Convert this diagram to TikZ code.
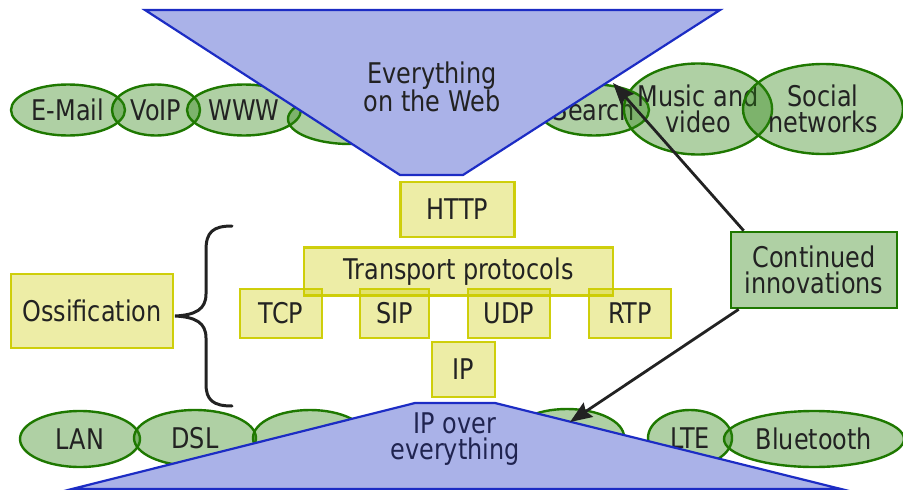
\documentclass[tikz,border=0pt]{standalone}
\usepackage{fontspec}
\setmainfont{DejaVu Sans}[FakeStretch=0.84]
\usetikzlibrary{arrows.meta,shapes.geometric,calc}
\definecolor{txt}{RGB}{34,34,34}
\definecolor{navytxt}{RGB}{32,36,80}
\definecolor{webfill}{RGB}{170,178,232}
\definecolor{webedge}{RGB}{28,44,196}
\definecolor{appfill}{RGB}{44,132,17}
\definecolor{appedge}{RGB}{30,120,0}
\definecolor{layer}{RGB}{204,204,0}
\newcommand{\bigtext}{\fontsize{28.5}{26.5}\selectfont}
\begin{document}
\begin{tikzpicture}[x=1pt,y=-1pt,
  every node/.style={font=\bigtext, text=txt, align=center},
  app/.style 2 args={ellipse, draw=appedge, line width=2.4pt, fill=appfill,
    fill opacity=0.38, draw opacity=1, text opacity=1, inner sep=-8pt,
    minimum width=#1, minimum height=#2},
  layerbox/.style 2 args={rectangle, draw=layer, line width=2.8pt, fill=layer,
    fill opacity=0.35, draw opacity=0.95, text opacity=1, inner sep=0pt,
    minimum width=#1, minimum height=#2},
  web/.style={draw=webedge, line width=2.2pt, fill=webfill, line join=miter},
  arr/.style={draw=txt, line width=2.8pt, -{Stealth[length=22pt,width=17pt,inset=3pt]}},
  bracestroke/.style={draw=txt, line width=3pt, line cap=round}]
\useasboundingbox (0,0) rectangle (903,490);

% applications on top of the web
\node[app={114}{51}] (email) at (68,110) {E-Mail};
\node[app={88}{51}] (voip) at (156,110) {VoIP};
\node[app={114}{51}] (www) at (244,110) {WWW};
\node[app={124}{50}] (appx) at (350,119) {};
\node[app={110}{51}] (search) at (594,110) {Search};
\node[app={142}{91}] (music) at (698,109) {Music and\\video};
\node[app={160}{90}] (social) at (823,109) {Social\\networks};

% link technologies below IP
\node[app={120}{56}] (lan) at (80,439) {LAN};
\node[app={122}{56}] (dsl) at (195,438) {DSL};
\node[app={114}{56}] (linkx) at (310,438) {};
\node[app={114}{56}] (linky) at (567,437) {};
\node[app={84}{56}] (lte) at (690,438) {LTE};
\node[app={180}{56}] (bt) at (814,439) {Bluetooth};

% the two funnels
\draw[web] (145,10) -- (720,10) -- (463,175) -- (400,175) -- cycle;
\node (webtext) at (432,87) {Everything\\on the Web};
\draw[web] (415,403) -- (495,403) -- (841,489) -- (72,489) -- cycle;
\node[text=navytxt] (iptext) at (455,439) {IP over\\everything};

% the protocol stack
\node[layerbox={114}{55}] (http) at (457.5,209.5) {HTTP};
\node[layerbox={309}{48}] (transport) at (458.5,271.5) {Transport protocols};
\node[layerbox={82}{49}] (tcp) at (281,313.5) {TCP};
\node[layerbox={69}{49}] (sip) at (394.5,313.5) {SIP};
\node[layerbox={82}{49}] (udp) at (509,313.5) {UDP};
\node[layerbox={82}{49}] (rtp) at (630,313.5) {RTP};
\node[layerbox={63}{55}] (ip) at (463.5,369.5) {IP};
\node[layerbox={162}{74}] (oss) at (92,311) {Ossification};

% brace grouping the stack
\draw[bracestroke] (232,226) .. controls (213,226) and (206,232) .. (206,250)
  -- (206,294) .. controls (206,309) and (196,315) .. (175,316)
  .. controls (196,317) and (206,323) .. (206,338)
  -- (206,384) .. controls (206,400) and (213,406) .. (232,406);

% innovation at both ends
\node[rectangle, draw=appedge, line width=2.6pt, fill=appfill, fill opacity=0.38,
  text opacity=1, minimum width=166, minimum height=76, inner sep=0pt]
  (cont) at (814,270) {Continued\\innovations};
\coordinate (webtip) at (613,83);
\coordinate (iptip) at (570,422);
\draw[arr] ($(cont.north west)+(14,0)$) -- (webtip);
\draw[arr] ($(cont.south west)+(9,0)$) -- (iptip);
\end{tikzpicture}
\end{document}
